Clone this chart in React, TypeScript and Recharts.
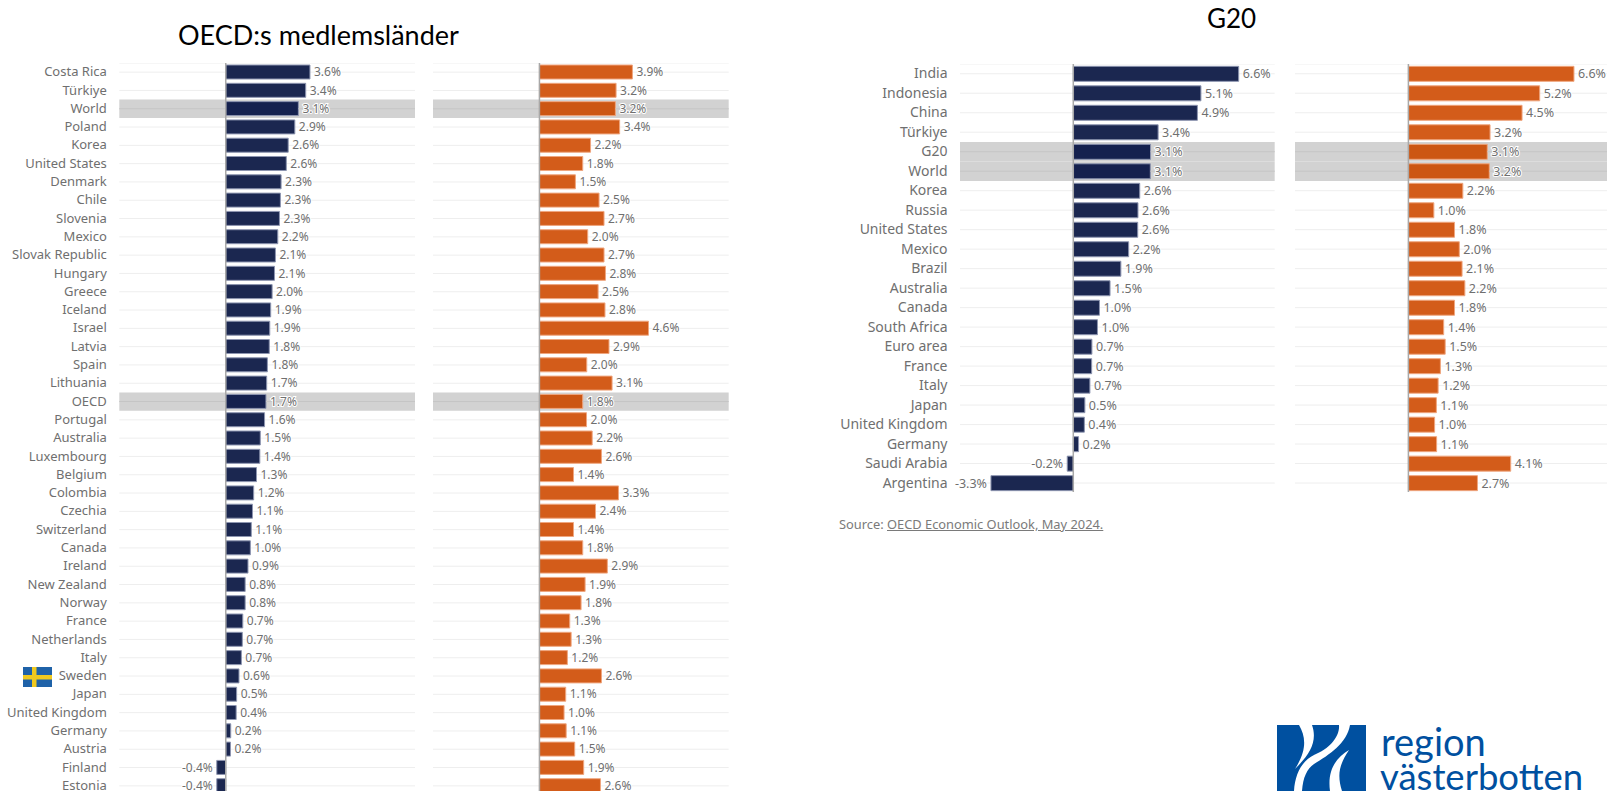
import { BarChart, Bar, Cell, XAxis, YAxis, CartesianGrid, LabelList, ReferenceArea, ReferenceLine } from "recharts";

const oecdCountries = ["Costa Rica", "Türkiye", "World", "Poland", "Korea", "United States", "Denmark", "Chile", "Slovenia", "Mexico", "Slovak Republic", "Hungary", "Greece", "Iceland", "Israel", "Latvia", "Spain", "Lithuania", "OECD", "Portugal", "Australia", "Luxembourg", "Belgium", "Colombia", "Czechia", "Switzerland", "Canada", "Ireland", "New Zealand", "Norway", "France", "Netherlands", "Italy", "Sweden", "Japan", "United Kingdom", "Germany", "Austria", "Finland", "Estonia"];
const oecdNavy = [3.56, 3.38, 3.07, 2.92, 2.64, 2.56, 2.34, 2.31, 2.27, 2.2, 2.1, 2.06, 1.96, 1.9, 1.86, 1.84, 1.76, 1.73, 1.7, 1.64, 1.46, 1.44, 1.3, 1.18, 1.13, 1.08, 1.04, 0.94, 0.82, 0.82, 0.72, 0.7, 0.66, 0.56, 0.46, 0.44, 0.21, 0.2, -0.38, -0.38];
const oecdOrange = [3.93, 3.24, 3.21, 3.39, 2.16, 1.83, 1.52, 2.52, 2.73, 2.04, 2.73, 2.79, 2.48, 2.77, 4.61, 2.94, 2.0, 3.07, 1.83, 1.99, 2.23, 2.62, 1.44, 3.34, 2.37, 1.44, 1.83, 2.87, 1.93, 1.76, 1.28, 1.34, 1.18, 2.62, 1.11, 1.04, 1.13, 1.49, 1.87, 2.58];
const oecdHighlight = ["World", "OECD"];

const g20Countries = ["India", "Indonesia", "China", "Türkiye", "G20", "World", "Korea", "Russia", "United States", "Mexico", "Brazil", "Australia", "Canada", "South Africa", "Euro area", "France", "Italy", "Japan", "United Kingdom", "Germany", "Saudi Arabia", "Argentina"];
const g20Navy = [6.57, 5.07, 4.93, 3.37, 3.07, 3.06, 2.64, 2.57, 2.56, 2.2, 1.89, 1.46, 1.04, 0.96, 0.74, 0.73, 0.66, 0.46, 0.44, 0.21, -0.24, -3.27];
const g20Orange = [6.57, 5.21, 4.51, 3.24, 3.13, 3.21, 2.16, 1.01, 1.83, 2.02, 2.13, 2.24, 1.83, 1.4, 1.46, 1.27, 1.18, 1.11, 1.04, 1.12, 4.06, 2.74];
const g20Highlight = ["G20", "World"];

const navy = { fill: "#1b2750", dark: "#15214e", stroke: "#8d95b0" };
const orange = { fill: "#d35c1a", dark: "#cc5613", stroke: "#efa67e" };
const font = "'Noto Sans', 'Open Sans', sans-serif";

type PanelProps = {
  left: number;
  top: number;
  width: number;
  height: number;
  axisWidth: number;
  categories: string[];
  values: number[];
  highlight: string[];
  color: typeof navy;
  gap: string;
  tickFont: number;
  labelFont: number;
  showAxis?: boolean;
};

function fmt(v: unknown) {
  return `${Number(v).toFixed(1)}%`;
}

function Panel({ left, top, width, height, axisWidth, categories, values, highlight, color, gap, tickFont, labelFont, showAxis }: PanelProps) {
  const data = categories.map((name, i) => ({ name, value: values[i] }));
  return (
    <div style={{ position: "absolute", left, top }}>
      <BarChart
        width={width}
        height={height}
        data={data}
        layout="vertical"
        margin={{ top: 0, right: 0, bottom: 0, left: 0 }}
        barCategoryGap={gap}
      >
        <CartesianGrid horizontal vertical={false} stroke="#eeeeee" />
        <XAxis type="number" domain={[-4.5, 8]} hide allowDataOverflow />
        <YAxis
          type="category"
          dataKey="name"
          width={axisWidth}
          hide={!showAxis}
          interval={0}
          axisLine={false}
          tickLine={false}
          tickSize={0}
          tickMargin={12.5}
          tick={{ fontSize: tickFont, fill: "#6f6f6f", fontFamily: font, dy: -0.5 }}
        />
        {highlight.map((name) => (
          <ReferenceArea key={name} y1={name} y2={name} fill="#d2d2d2" fillOpacity={1} stroke="none" />
        ))}
        {/* grid line stays visible in the grey rows, but only beside the bar */}
        {data.filter((d) => highlight.includes(d.name)).map((d) => (
          <ReferenceLine key={d.name} segment={[{ x: d.value, y: d.name }, { x: 8, y: d.name }]} stroke="#c5c5c5" />
        ))}
        {highlight.map((name) => (
          <ReferenceLine key={name + "-left"} segment={[{ x: -4.5, y: name }, { x: 0, y: name }]} stroke="#c5c5c5" />
        ))}
        <ReferenceLine x={0} stroke="#a8a8a8" strokeWidth={1.5} />
        <Bar dataKey="value" isAnimationActive={false} stroke={color.stroke} strokeWidth={1}>
          {data.map((d) => (
            <Cell key={d.name} fill={highlight.includes(d.name) ? color.dark : color.fill} />
          ))}
          <LabelList
            dataKey="value"
            position="right"
            offset={4}
            formatter={fmt}
            fontSize={labelFont}
            fontFamily={font}
            fill="#6f6f6f"
            stroke="#ffffff"
            strokeWidth={2}
            style={{ paintOrder: "stroke" }}
          />
        </Bar>
      </BarChart>
    </div>
  );
}

function SwedishFlag() {
  return (
    <svg style={{ position: "absolute", left: 23, top: 667 }} width={29} height={20}>
      <rect width={29} height={20} fill="#1f62a8" />
      <rect x={9} width={4.5} height={20} fill="#f0c91f" />
      <rect y={8} width={29} height={4.5} fill="#f0c91f" />
    </svg>
  );
}

function Logo() {
  return (
    <div style={{ position: "absolute", left: 1277, top: 725 }}>
      <svg width={89} height={66} style={{ display: "block" }}>
        <rect width={89} height={66} fill="#0050a0" />
        <path d="M22 0 C29 12 30 25 18 44 C32 30 41 17 35 0 Z" fill="#ffffff" />
        <path d="M62 0 C63 12 52 24 37 30 C26 35 18 48 17 66 L25 66 C26 52 30 44 37 39 C52 30 70 18 73 0 Z" fill="#ffffff" />
        <path d="M72 25 C60 32 50 44 53 66 L65 66 C60 50 62 40 72 25 Z" fill="#ffffff" />
      </svg>
    </div>
  );
}

export default function App() {
  return (
    <div style={{ position: "absolute", left: 0, top: 0, width: 1607, height: 791, overflow: "hidden", background: "#ffffff", fontFamily: font }}>
      <div style={{ position: "absolute", left: 178, top: 18, fontFamily: "Lato", fontSize: 27, color: "#000000", whiteSpace: "nowrap" }}>OECD:s medlemsländer</div>
      <div style={{ position: "absolute", left: 1207, top: 2, fontFamily: "Lato", fontSize: 26, color: "#000000" }}>G20</div>

      <Panel left={0} top={62.5} width={415} height={732} axisWidth={119.3} categories={oecdCountries} values={oecdNavy} highlight={oecdHighlight} color={navy} gap="11%" tickFont={13} labelFont={12} showAxis />
      <Panel left={433.3} top={62.5} width={295.7} height={732} axisWidth={0} categories={oecdCountries} values={oecdOrange} highlight={oecdHighlight} color={orange} gap="11%" tickFont={13} labelFont={12} />
      <Panel left={0} top={63.6} width={1274.7} height={428.8} axisWidth={960} categories={g20Countries} values={g20Navy} highlight={g20Highlight} color={navy} gap="12%" tickFont={14} labelFont={12.5} showAxis />
      <Panel left={1295.3} top={63.6} width={315} height={428.8} axisWidth={0} categories={g20Countries} values={g20Orange} highlight={g20Highlight} color={orange} gap="12%" tickFont={14} labelFont={12.5} />

      <SwedishFlag />
      <div style={{ position: "absolute", left: 839, top: 515, fontSize: 12.85, color: "#7a7a7a", whiteSpace: "nowrap" }}>
        Source: <span style={{ textDecoration: "underline" }}>OECD Economic Outlook, May 2024.</span>
      </div>
      <Logo />
      <div style={{ position: "absolute", left: 1381, top: 726, fontFamily: "Lato", fontSize: 38, lineHeight: "30px", color: "#0050a0" }}>region</div>
      <div style={{ position: "absolute", left: 1380, top: 761, fontFamily: "Lato", fontSize: 36.5, lineHeight: "30px", color: "#0050a0" }}>västerbotten</div>
    </div>
  );
}
